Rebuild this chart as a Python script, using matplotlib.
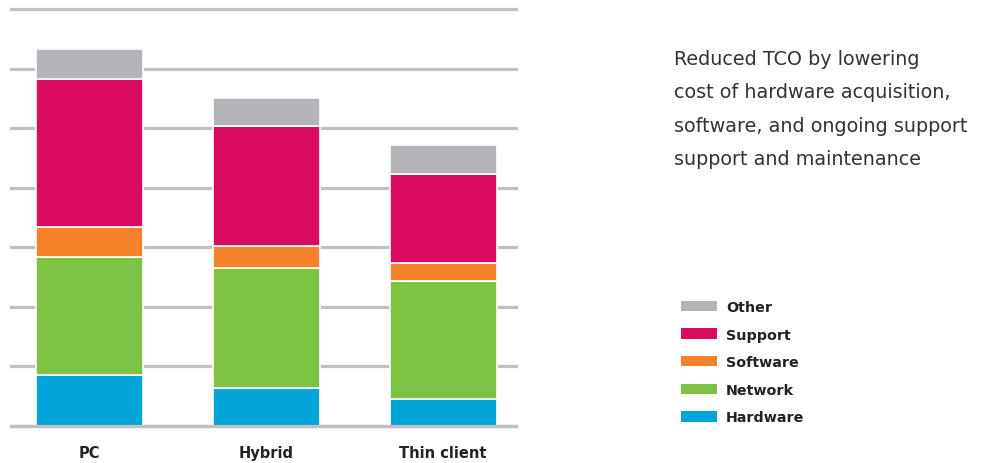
import matplotlib.pyplot as plt
from matplotlib.patches import Patch

# values (one gridline = 1 unit)
categories = ["PC", "Hybrid", "Thin client"]
series = ["Hardware", "Network", "Software", "Support", "Other"]
hardware = [0.85, 0.64, 0.45]
network = [1.98, 2.01, 1.98]
software = [0.51, 0.37, 0.30]
support = [2.48, 2.01, 1.50]
other = [0.50, 0.48, 0.49]
note_lines = [
    "Reduced TCO by lowering",
    "cost of hardware acquisition,",
    "software, and ongoing support",
    "support and maintenance",
]

colors = ["#03A4D8", "#7DC243", "#F3822B", "#D90B5F", "#B3B4B7"]


def main():
    W, H = 987, 464
    fig = plt.figure(figsize=(W / 100, H / 100), dpi=100)
    ax = fig.add_axes([11 / W, (H - 426.8) / H, 505 / W, 416.8 / H])

    x = list(range(len(categories)))
    bottom = [0.0] * len(categories)
    for vals, col in zip([hardware, network, software, support, other], colors):
        ax.bar(x, vals, bottom=bottom, width=0.606, color=col,
               edgecolor="white", linewidth=1.2, zorder=3)
        bottom = [b + v for b, v in zip(bottom, vals)]

    for g in range(8):
        ax.axhline(g, color="#C0C0C2", linewidth=2.3, zorder=1, clip_on=False)
    # baseline stays visible under the bars
    ax.axhline(0, color="#C0C0C2", linewidth=2.3, zorder=4, clip_on=False)

    ax.set_ylim(0, 7)
    ax.set_xlim(-0.4455, 2.413)
    ax.set_yticks([])
    ax.set_xticks(x)
    ax.set_xticklabels(categories, fontsize=10.5, fontweight="bold",
                       color="#222222")
    ax.tick_params(axis="x", length=0, pad=14)
    for s in ax.spines.values():
        s.set_visible(False)

    # note text on the right
    for i, line in enumerate(note_lines):
        fig.text(674 / W, 1 - (65 + 33.3 * i) / H, line, fontsize=13.8,
                 color="#333333", ha="left", va="baseline")

    handles = [Patch(facecolor=c, edgecolor="none") for c in colors][::-1]
    labels = series[::-1]
    fig.legend(handles, labels, loc="upper left",
               bbox_to_anchor=(681 / W, 1 - 301 / H), frameon=False,
               prop={"weight": "bold", "size": 10.3},
               handlelength=2.5, handleheight=0.75, handletextpad=0.65,
               labelspacing=0.95, borderpad=0, borderaxespad=0,
               labelcolor="#222222")

    fig.savefig("out.png", dpi=100)


if __name__ == "__main__":
    main()
